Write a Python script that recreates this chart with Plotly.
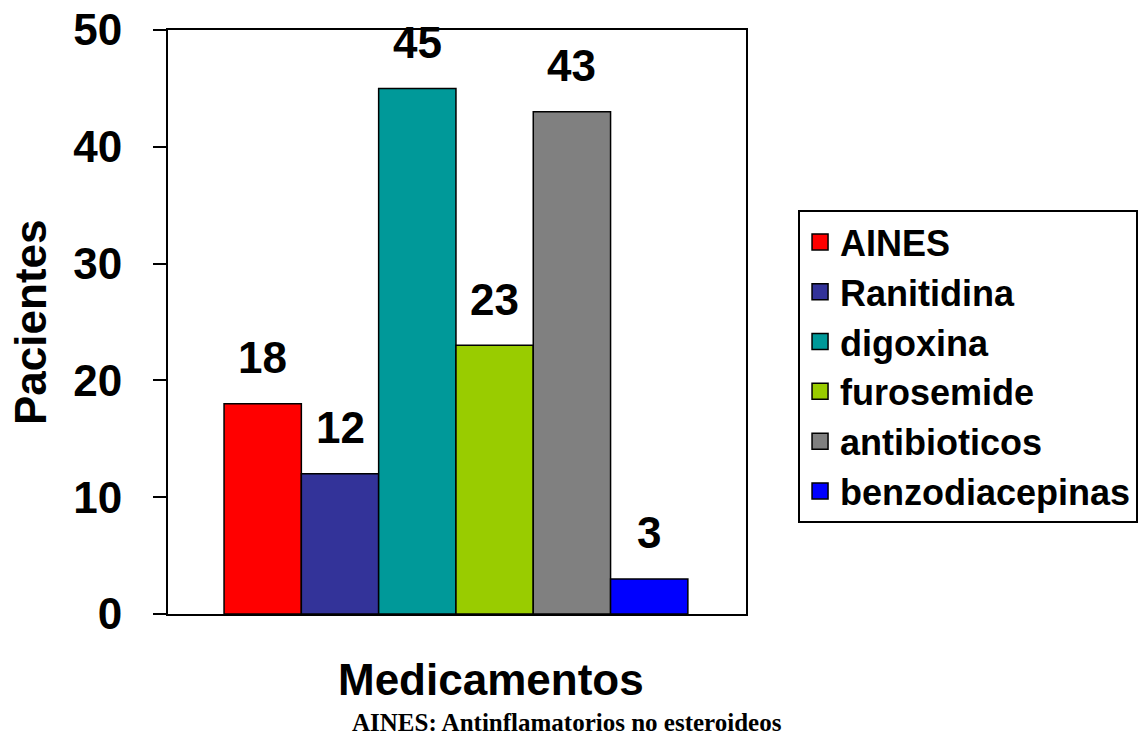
import plotly.graph_objects as go

categories = ["AINES", "Ranitidina", "digoxina", "furosemide", "antibioticos", "benzodiacepinas"]
values = [18, 12, 45, 23, 43, 3]
colors = ["#FF0000", "#333399", "#009999", "#99CC00", "#808080", "#0000FF"]
y_ticks = [0, 10, 20, 30, 40, 50]

SANS = "Liberation Sans, Arial, sans-serif"
SERIF = "Liberation Serif, Times New Roman, serif"

fig = go.Figure()
for i, (name, v, c) in enumerate(zip(categories, values, colors)):
    fig.add_trace(go.Bar(
        x=[i], y=[v], name=name, width=1, legendgroup=name, showlegend=False,
        marker=dict(color=c, line=dict(color="black", width=1.5)),
    ))
    # legend entry with a larger square swatch
    fig.add_trace(go.Scatter(
        x=[None], y=[None], name=name, legendgroup=name, mode="markers",
        marker=dict(symbol="square", size=22, color=c, line=dict(color="black", width=1.5)),
    ))
    fig.add_annotation(
        x=i, y=v, xref="x", yref="y", text=str(v), showarrow=False,
        yanchor="middle", yshift=46,
        font=dict(family=SANS, size=44, color="black", weight="bold"),
    )

fig.add_annotation(
    x=0.559, y=-0.113, xref="paper", yref="paper", text="Medicamentos",
    showarrow=False, xanchor="center", yanchor="middle",
    font=dict(family=SANS, size=44, color="black", weight="bold"),
)
fig.add_annotation(
    x=0.690, y=-0.1866, xref="paper", yref="paper",
    text="AINES: Antinflamatorios no esteroideos",
    showarrow=False, xanchor="center", yanchor="middle",
    font=dict(family=SERIF, size=25, color="black", weight="bold"),
)
fig.add_annotation(
    x=-0.2388, y=0.5, xref="paper", yref="paper", text="Pacientes",
    showarrow=False, xanchor="center", yanchor="middle", textangle=-90,
    font=dict(family=SANS, size=44, color="black", weight="bold"),
)

fig.update_layout(
    width=1143, height=738,
    margin=dict(l=168, r=397, t=30, b=124, autoexpand=False),
    paper_bgcolor="white", plot_bgcolor="white",
    barmode="overlay",
    font=dict(family=SANS, color="black", weight="bold"),
    xaxis=dict(
        range=[-1.225, 6.252], showticklabels=False, ticks="",
        showgrid=False, zeroline=False, automargin=False,
        showline=True, linecolor="black", linewidth=2, mirror=True,
    ),
    yaxis=dict(
        range=[0, 50], tickvals=y_ticks, ticks="outside", ticklen=13,
        tickwidth=2, tickcolor="black", showgrid=False, zeroline=False,
        automargin=False,
        showline=True, linecolor="black", linewidth=2, mirror=True,
        tickfont=dict(family=SANS, size=44, color="black", weight="bold"),
        ticklabelstandoff=22,
    ),
    legend=dict(
        xref="container", yref="container",
        x=0.6982, xanchor="left", y=0.7154, yanchor="top",
        bordercolor="black", borderwidth=2, bgcolor="white",
        font=dict(family=SANS, size=36, color="black", weight="bold"),
        tracegroupgap=0, itemsizing="trace",
    ),
    showlegend=True,
)

fig.write_html("out.html", config={"displayModeBar": False},
               post_script="document.body.style.margin='0';")
